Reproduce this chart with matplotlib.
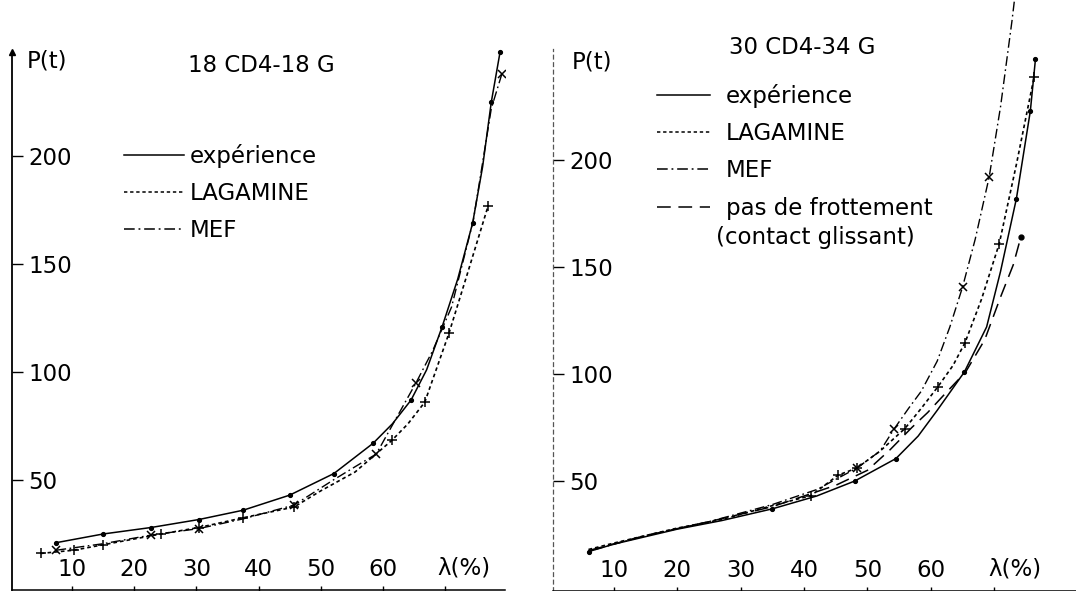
import matplotlib
matplotlib.use('Agg')
import matplotlib.pyplot as plt
from matplotlib.lines import Line2D

plt.rcParams['font.family'] = ['DejaVu Sans']

# ---------------- data: left panel (18 CD4-18 G) ----------------
L_exp_x = [7.5, 15, 22.7, 30.4, 37.5, 45, 52.1, 58.4, 61.5, 64.5, 67, 69.5, 72, 74.4, 76, 77.4, 78.8]
L_exp_y = [21, 25, 28, 31.7, 36, 43, 53, 67, 76, 87, 101, 121, 143, 169, 195, 225, 248]
L_lag_x = [5, 10.3, 15, 24.3, 30.4, 37.5, 45.7, 50, 55.5, 61.4, 64, 66.7, 70.6, 73.5, 76.9]
L_lag_y = [16, 17.5, 20, 25, 28, 32.5, 37.5, 45, 53.7, 68.3, 76, 86, 118, 145, 177]
L_mef_x = [7.5, 15, 22.7, 30.4, 37.5, 45.7, 52, 56, 58.9, 62, 65.3, 68, 71, 74.5, 77.4, 79.1]
L_mef_y = [17.5, 20.5, 24.5, 27.5, 32, 38.4, 50, 57, 62, 78, 95, 110, 130, 170, 222, 238]

# ---------------- data: right panel (30 CD4-34 G) ----------------
R_exp_x = [6, 10, 15, 20, 27, 35, 42, 48, 54.5, 58, 61, 65.3, 68.8, 71, 73.5, 75.7, 76.5]
R_exp_y = [17, 20.5, 24, 27.5, 31.5, 37, 43, 50, 60.5, 71, 83, 101, 122, 148, 182, 223, 247]
R_lag_x = [6, 10, 15, 20, 27, 35, 41.1, 45.4, 48.3, 52, 55.9, 58.5, 61.1, 63.5, 65.4, 68, 70.8, 73.5, 76.3]
R_lag_y = [18, 21, 24.5, 28, 32, 38.5, 43.2, 52.8, 56, 64, 74.5, 84, 94, 104, 114.7, 135, 161, 198, 239]
R_mef_x = [7, 15, 25, 35, 42, 48.3, 52, 54.2, 56.5, 58.5, 61, 63, 65, 67, 69.2, 71, 72.8, 73.6]
R_mef_y = [18, 24.5, 31, 39, 46, 56, 64, 74.3, 84, 92, 106, 122, 140.6, 163, 192, 225, 265, 285]
R_pas_x = [6, 15, 25, 35, 45, 50, 53.6, 57, 59.5, 62, 65.5, 68.5, 71, 73, 74.2]
R_pas_y = [17.5, 24.5, 31, 38, 48, 55, 64.7, 75, 82, 90, 101, 116, 136, 151, 164]

# indices of the points that carry a symbol in the original
L_exp_marks = [0, 1, 2, 3, 4, 5, 6, 7, 9, 11, 13, 15, 16]
L_lag_marks = [0, 1, 2, 3, 4, 5, 6, 9, 11, 12, 14]
L_mef_marks = [0, 2, 3, 5, 8, 10, 15]
R_exp_marks = [0, 5, 7, 8, 11, 14, 15, 16]
R_lag_marks = [6, 7, 8, 10, 12, 14, 16, 18]
R_mef_marks = [5, 7, 12, 14]
R_pas_marks = [14]

x_ticks = [10, 20, 30, 40, 50, 60, 70]
x_ticklabels = ['10', '20', '30', '40', '50', '60', '']
y_ticks = [50, 100, 150, 200]
y_ticklabels = ['50', '100', '150', '200']

W, H = 1076, 591
FS = 16.5
fig = plt.figure(figsize=(W / 100, H / 100), dpi=100)


def px_axes(x0, x1, y_top, y_bot):
    return fig.add_axes([x0 / W, 1 - y_bot / H, (x1 - x0) / W, (y_bot - y_top) / H])


LS = {'exp': '-', 'lag': (0, (2.2, 1.8)), 'mef': (0, (7, 2.5, 1.2, 2.5)), 'pas': (0, (9, 5))}
STY = {
    'exp': dict(color='black', lw=1.1, ls=LS['exp'], marker='.', ms=5.5),
    'lag': dict(color='black', lw=1.2, ls=LS['lag'], marker='+', ms=6.5, mew=1.1),
    'mef': dict(color='black', lw=1.0, ls=LS['mef'], marker='x', ms=5.5, mew=1.1),
    'pas': dict(color='black', lw=1.1, ls=LS['pas'], marker='.', ms=7),
}


def style_axes(ax, ytop, right_panel=False):
    for s in ['top', 'right']:
        ax.spines[s].set_visible(False)
    ax.spines['left'].set_bounds(ax.get_ylim()[0], ytop)
    ax.spines['left'].set_linewidth(1.3 if not right_panel else 0.9)
    ax.spines['bottom'].set_linewidth(1.1)
    if right_panel:
        ax.spines['left'].set_linestyle((0, (3, 3)))
        ax.spines['left'].set_color('#555555')
    ax.set_facecolor('none')
    ax.set_yticks(y_ticks)
    ax.set_yticklabels(y_ticklabels)
    ax.set_xticks(x_ticks)
    ax.set_xticklabels(x_ticklabels)
    ax.tick_params(axis='y', direction='in', length=8, width=1, pad=-12, labelsize=FS)
    for lab in ax.get_yticklabels():
        lab.set_horizontalalignment('left')
    ax.tick_params(axis='x', direction='inout', length=6, width=1, pad=-26, labelsize=FS)


def legend_handles(keys):
    return [Line2D([], [], color='black', lw=1.1, ls=LS[k]) for k in keys]


# ---------------- left panel ----------------
axL = px_axes(12, 505, 0, 590)
axL.set_xlim(0.35, 79.6)
axL.set_ylim(-0.93, 272.2)
axL.plot(L_exp_x, L_exp_y, markevery=L_exp_marks, **STY['exp'])
axL.plot(L_lag_x, L_lag_y, markevery=L_lag_marks, **STY['lag'])
axL.plot(L_mef_x, L_mef_y, markevery=L_mef_marks, **STY['mef'])
style_axes(axL, 248)
axL.plot(0, 248, marker='^', color='black', ms=5, transform=axL.get_yaxis_transform(), clip_on=False)
axL.plot(1, -0.93, marker='>', color='black', ms=6, transform=axL.get_xaxis_transform(), clip_on=False)
axL.text(27 / W, 1 - 61 / H, 'P(t)', transform=fig.transFigure, fontsize=FS, va='center', ha='left')
axL.text(261 / W, 1 - 66 / H, '18 CD4-18 G', transform=fig.transFigure, fontsize=FS, va='center', ha='center')
axL.text(464 / W, 1 - 568 / H, 'λ(%)', transform=fig.transFigure, fontsize=FS, va='center', ha='center')
axL.legend(legend_handles(['exp', 'lag', 'mef']), ['expérience', 'LAGAMINE', 'MEF'], loc='upper left',
           bbox_to_anchor=(124 / W, 1 - 144 / H), bbox_transform=fig.transFigure,
           frameon=False, borderpad=0, borderaxespad=0, handlelength=2.6, handletextpad=0.25,
           labelspacing=0.62, fontsize=FS)

# ---------------- right panel ----------------
axR = px_axes(553, 1076, 0, 591)
axR.set_xlim(0.4, 82.9)
axR.set_ylim(-1.4, 274.8)
axR.plot(R_exp_x, R_exp_y, markevery=R_exp_marks, **STY['exp'])
axR.plot(R_lag_x, R_lag_y, markevery=R_lag_marks, **STY['lag'])
axR.plot(R_mef_x, R_mef_y, markevery=R_mef_marks, **STY['mef'])
axR.plot(R_pas_x, R_pas_y, markevery=R_pas_marks, **STY['pas'])
style_axes(axR, 252, right_panel=True)
axR.text(592 / W, 1 - 62 / H, 'P(t)', transform=fig.transFigure, fontsize=FS, va='center', ha='center')
axR.text(802 / W, 1 - 48 / H, '30 CD4-34 G', transform=fig.transFigure, fontsize=FS, va='center', ha='center')
axR.text(1015 / W, 1 - 569 / H, 'λ(%)', transform=fig.transFigure, fontsize=FS, va='center', ha='center')
axR.legend(legend_handles(['exp', 'lag', 'mef', 'pas']),
           ['expérience', 'LAGAMINE', 'MEF', 'pas de frottement'], loc='upper left',
           bbox_to_anchor=(657 / W, 1 - 84 / H), bbox_transform=fig.transFigure,
           frameon=False, borderpad=0, borderaxespad=0, handlelength=2.3, handletextpad=0.7,
           labelspacing=0.62, fontsize=FS)
axR.text(716 / W, 1 - 238 / H, '(contact glissant)', transform=fig.transFigure, fontsize=FS,
         va='center', ha='left')

fig.savefig('out.png', dpi=100)
